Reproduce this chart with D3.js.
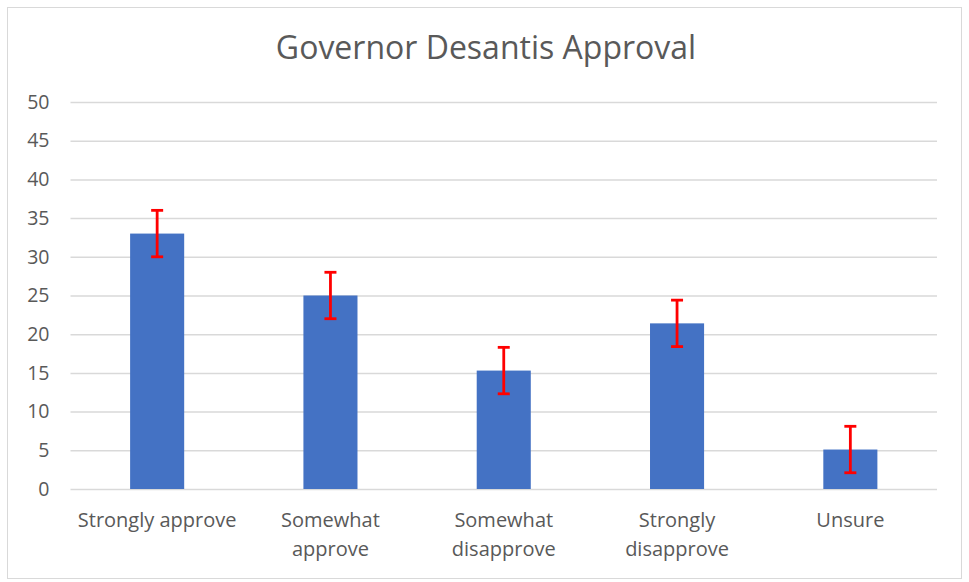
<!DOCTYPE html>
<html><head><meta charset="utf-8">
<script src="https://cdn.jsdelivr.net/npm/d3@7"></script>
<style>body{margin:0;background:#fff}svg{display:block}</style>
</head><body>
<svg id="c" width="969" height="582"></svg>
<script>
const categories = ["Strongly approve", "Somewhat approve", "Somewhat disapprove", "Strongly disapprove", "Unsure"];
const categoryLines = [["Strongly approve"], ["Somewhat", "approve"], ["Somewhat", "disapprove"], ["Strongly", "disapprove"], ["Unsure"]];
const values = [33, 25, 15.3, 21.4, 5.1];
const errors = [3, 3, 3, 3, 3];
const yTicks = [0, 5, 10, 15, 20, 25, 30, 35, 40, 45, 50];
const title = "Governor Desantis Approval";

(function () {
const svg = d3.select("#c");
const font = "'Open Sans', Lato, sans-serif";
svg.append("rect").attr("x", 7.5).attr("y", 7.5).attr("width", 954).attr("height", 571)
  .attr("fill", "#fff").attr("stroke", "#d9d9d9").attr("stroke-width", 1);

const pl = 70.5, pr = 937, pt = 102, pb = 489;
const x = d3.scaleBand().domain(categories).range([pl, pr]).paddingInner(0.688).paddingOuter(0.344);
const y = d3.scaleLinear().domain([0, 50]).range([pb, pt]);

svg.append("text").attr("x", 486).attr("y", 59).attr("text-anchor", "middle")
  .attr("font-family", font).attr("font-size", 32).attr("fill", "#595959").text(title);

const yAxis = svg.append("g").attr("transform", `translate(${pl},0)`)
  .call(d3.axisLeft(y).tickValues(yTicks).tickSize(-(pr - pl)).tickPadding(21));
yAxis.select(".domain").remove();
yAxis.selectAll(".tick line").attr("stroke", "#d9d9d9").attr("stroke-width", 1.5);
yAxis.selectAll(".tick text").attr("font-family", font).attr("font-size", 19.5).attr("fill", "#595959");

svg.selectAll("rect.bar").data(values).join("rect").attr("class", "bar")
  .attr("x", (d, i) => x(categories[i])).attr("width", x.bandwidth())
  .attr("y", d => y(d)).attr("height", d => y(0) - y(d)).attr("fill", "#4472c4");

const eb = svg.append("g").attr("stroke", "#ff0000").attr("stroke-width", 2.8);
values.forEach((v, i) => {
  const cx = x(categories[i]) + x.bandwidth() / 2;
  eb.append("line").attr("x1", cx).attr("x2", cx).attr("y1", y(v + errors[i])).attr("y2", y(v - errors[i]));
  [v + errors[i], v - errors[i]].forEach(e => {
    eb.append("line").attr("x1", cx - 6).attr("x2", cx + 6).attr("y1", y(e)).attr("y2", y(e));
  });
});

const xl = svg.append("g");
categoryLines.forEach((lines, i) => {
  const cx = x(categories[i]) + x.bandwidth() / 2;
  const t = xl.append("text").attr("text-anchor", "middle").attr("font-family", font)
    .attr("font-size", 20).attr("fill", "#595959");
  lines.forEach((l, j) => t.append("tspan").attr("x", cx).attr("y", 527 + j * 29).text(l));
});
})();
</script>
</body></html>
